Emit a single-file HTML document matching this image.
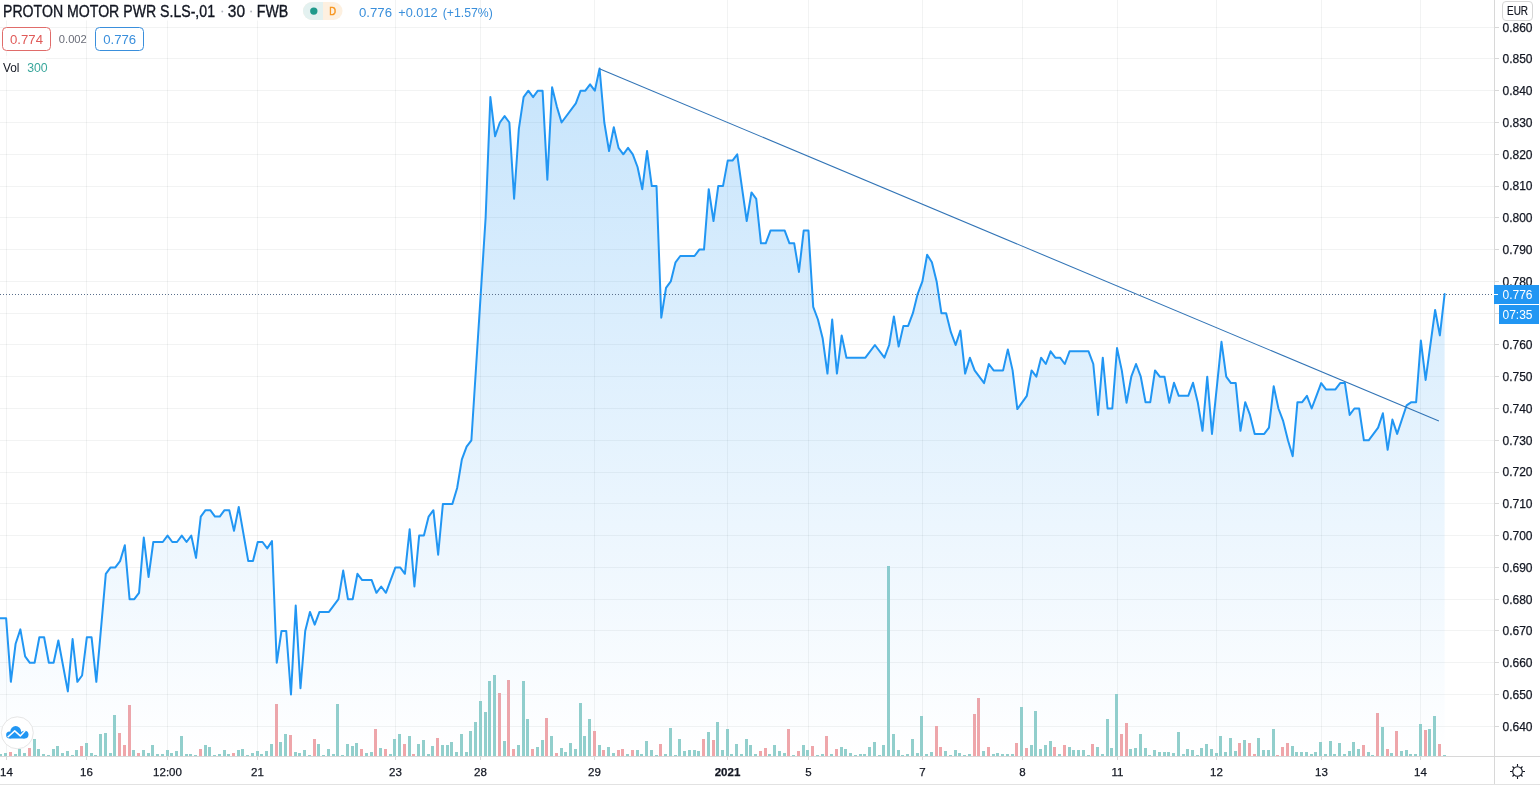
<!DOCTYPE html>
<html><head><meta charset="utf-8">
<style>
html,body{margin:0;padding:0;background:#fff;}
body{width:1540px;height:787px;overflow:hidden;position:relative;font-family:"Liberation Sans",Arial,sans-serif;}
svg{position:absolute;left:0;top:0;}
.lg{position:absolute;white-space:nowrap;color:#131722;}
</style></head><body>
<svg width="1540" height="787" viewBox="0 0 1540 787">
<defs>
<linearGradient id="ag" x1="0" y1="0" x2="0" y2="756" gradientUnits="userSpaceOnUse">
<stop offset="0" stop-color="#2196f3" stop-opacity="0.28"/>
<stop offset="1" stop-color="#2196f3" stop-opacity="0.0"/>
</linearGradient>
<clipPath id="pane"><rect x="0" y="0" width="1494" height="756"/></clipPath>
</defs>
<rect x="0" y="0" width="1540" height="787" fill="#fff"/>
<path d="M0,27.5H1494 M0,58.5H1494 M0,90.5H1494 M0,122.5H1494 M0,154.5H1494 M0,186.5H1494 M0,217.5H1494 M0,249.5H1494 M0,281.5H1494 M0,313.5H1494 M0,344.5H1494 M0,376.5H1494 M0,408.5H1494 M0,440.5H1494 M0,472.5H1494 M0,503.5H1494 M0,535.5H1494 M0,567.5H1494 M0,599.5H1494 M0,630.5H1494 M0,662.5H1494 M0,694.5H1494 M0,726.5H1494" stroke="rgba(42,46,57,0.06)" stroke-width="1" fill="none"/>
<path d="M6.5,0V756 M86.5,0V756 M167.5,0V756 M257.5,0V756 M395.5,0V756 M480.5,0V756 M594.5,0V756 M727.5,0V756 M808.5,0V756 M922.5,0V756 M1022.5,0V756 M1117.5,0V756 M1216.5,0V756 M1321.5,0V756 M1420.5,0V756" stroke="rgba(42,46,57,0.06)" stroke-width="1" fill="none"/>
<g clip-path="url(#pane)">
<g fill="#92cfcc"><rect x="-1" y="754" width="3" height="2"/><rect x="4" y="753" width="3" height="3"/><rect x="14" y="754" width="3" height="2"/><rect x="18" y="749" width="3" height="7"/><rect x="23" y="753" width="3" height="3"/><rect x="33" y="739" width="3" height="17"/><rect x="37" y="749" width="3" height="7"/><rect x="42" y="754" width="3" height="2"/><rect x="47" y="755" width="3" height="1"/><rect x="52" y="749" width="3" height="7"/><rect x="56" y="746" width="3" height="10"/><rect x="61" y="753" width="3" height="3"/><rect x="66" y="751" width="3" height="5"/><rect x="71" y="755" width="3" height="1"/><rect x="75" y="750" width="3" height="6"/><rect x="85" y="743" width="3" height="13"/><rect x="90" y="753" width="3" height="3"/><rect x="94" y="755" width="3" height="1"/><rect x="99" y="734" width="3" height="22"/><rect x="104" y="733" width="3" height="23"/><rect x="109" y="753" width="3" height="3"/><rect x="113" y="715" width="3" height="41"/><rect x="132" y="750" width="3" height="6"/><rect x="142" y="750" width="3" height="6"/><rect x="147" y="753" width="3" height="3"/><rect x="151" y="745" width="3" height="11"/><rect x="156" y="754" width="3" height="2"/><rect x="161" y="754" width="3" height="2"/><rect x="166" y="750" width="3" height="6"/><rect x="170" y="753" width="3" height="3"/><rect x="175" y="751" width="3" height="5"/><rect x="180" y="736" width="3" height="20"/><rect x="185" y="754" width="3" height="2"/><rect x="189" y="754" width="3" height="2"/><rect x="194" y="755" width="3" height="1"/><rect x="204" y="745" width="3" height="11"/><rect x="208" y="747" width="3" height="9"/><rect x="213" y="755" width="3" height="1"/><rect x="218" y="754" width="3" height="2"/><rect x="223" y="750" width="3" height="6"/><rect x="227" y="754" width="3" height="2"/><rect x="237" y="750" width="3" height="6"/><rect x="241" y="749" width="3" height="7"/><rect x="246" y="755" width="3" height="1"/><rect x="251" y="753" width="3" height="3"/><rect x="256" y="751" width="3" height="5"/><rect x="260" y="754" width="3" height="2"/><rect x="265" y="751" width="3" height="5"/><rect x="270" y="744" width="3" height="12"/><rect x="279" y="742" width="3" height="14"/><rect x="284" y="734" width="3" height="22"/><rect x="294" y="752" width="3" height="4"/><rect x="298" y="753" width="3" height="3"/><rect x="303" y="750" width="3" height="6"/><rect x="308" y="755" width="3" height="1"/><rect x="317" y="744" width="3" height="12"/><rect x="322" y="755" width="3" height="1"/><rect x="327" y="749" width="3" height="7"/><rect x="332" y="754" width="3" height="2"/><rect x="336" y="704" width="3" height="52"/><rect x="341" y="755" width="3" height="1"/><rect x="346" y="744" width="3" height="12"/><rect x="351" y="746" width="3" height="10"/><rect x="355" y="743" width="3" height="13"/><rect x="365" y="753" width="3" height="3"/><rect x="370" y="752" width="3" height="4"/><rect x="379" y="748" width="3" height="8"/><rect x="389" y="754" width="3" height="2"/><rect x="393" y="739" width="3" height="17"/><rect x="398" y="734" width="3" height="22"/><rect x="408" y="736" width="3" height="20"/><rect x="417" y="744" width="3" height="12"/><rect x="422" y="740" width="3" height="16"/><rect x="427" y="754" width="3" height="2"/><rect x="431" y="746" width="3" height="10"/><rect x="441" y="745" width="3" height="11"/><rect x="446" y="745" width="3" height="11"/><rect x="450" y="742" width="3" height="14"/><rect x="455" y="752" width="3" height="4"/><rect x="460" y="734" width="3" height="22"/><rect x="465" y="752" width="3" height="4"/><rect x="469" y="731" width="3" height="25"/><rect x="474" y="722" width="3" height="34"/><rect x="479" y="701" width="3" height="55"/><rect x="484" y="712" width="3" height="44"/><rect x="488" y="681" width="3" height="75"/><rect x="493" y="675" width="3" height="81"/><rect x="503" y="741" width="3" height="15"/><rect x="517" y="745" width="3" height="11"/><rect x="522" y="681" width="3" height="75"/><rect x="526" y="719" width="3" height="37"/><rect x="536" y="747" width="3" height="9"/><rect x="541" y="740" width="3" height="16"/><rect x="550" y="736" width="3" height="20"/><rect x="560" y="748" width="3" height="8"/><rect x="564" y="752" width="3" height="4"/><rect x="569" y="743" width="3" height="13"/><rect x="574" y="749" width="3" height="7"/><rect x="579" y="703" width="3" height="53"/><rect x="583" y="736" width="3" height="20"/><rect x="588" y="719" width="3" height="37"/><rect x="598" y="745" width="3" height="11"/><rect x="607" y="747" width="3" height="9"/><rect x="612" y="753" width="3" height="3"/><rect x="626" y="754" width="3" height="2"/><rect x="636" y="750" width="3" height="6"/><rect x="640" y="754" width="3" height="2"/><rect x="645" y="741" width="3" height="15"/><rect x="650" y="750" width="3" height="6"/><rect x="655" y="755" width="3" height="1"/><rect x="664" y="754" width="3" height="2"/><rect x="669" y="728" width="3" height="28"/><rect x="674" y="755" width="3" height="1"/><rect x="678" y="739" width="3" height="17"/><rect x="683" y="751" width="3" height="5"/><rect x="688" y="750" width="3" height="6"/><rect x="693" y="750" width="3" height="6"/><rect x="697" y="751" width="3" height="5"/><rect x="707" y="732" width="3" height="24"/><rect x="716" y="722" width="3" height="34"/><rect x="721" y="750" width="3" height="6"/><rect x="726" y="729" width="3" height="27"/><rect x="730" y="754" width="3" height="2"/><rect x="735" y="744" width="3" height="12"/><rect x="740" y="754" width="3" height="2"/><rect x="745" y="739" width="3" height="17"/><rect x="749" y="745" width="3" height="11"/><rect x="754" y="754" width="3" height="2"/><rect x="768" y="754" width="3" height="2"/><rect x="773" y="745" width="3" height="11"/><rect x="778" y="751" width="3" height="5"/><rect x="783" y="753" width="3" height="3"/><rect x="792" y="755" width="3" height="1"/><rect x="802" y="745" width="3" height="11"/><rect x="806" y="750" width="3" height="6"/><rect x="816" y="755" width="3" height="1"/><rect x="821" y="754" width="3" height="2"/><rect x="830" y="754" width="3" height="2"/><rect x="840" y="747" width="3" height="9"/><rect x="844" y="749" width="3" height="7"/><rect x="849" y="753" width="3" height="3"/><rect x="854" y="755" width="3" height="1"/><rect x="859" y="754" width="3" height="2"/><rect x="863" y="754" width="3" height="2"/><rect x="868" y="747" width="3" height="9"/><rect x="873" y="742" width="3" height="14"/><rect x="878" y="755" width="3" height="1"/><rect x="882" y="745" width="3" height="11"/><rect x="887" y="566" width="3" height="190"/><rect x="892" y="734" width="3" height="22"/><rect x="897" y="750" width="3" height="6"/><rect x="901" y="755" width="3" height="1"/><rect x="906" y="754" width="3" height="2"/><rect x="911" y="739" width="3" height="17"/><rect x="916" y="753" width="3" height="3"/><rect x="920" y="716" width="3" height="40"/><rect x="925" y="754" width="3" height="2"/><rect x="930" y="752" width="3" height="4"/><rect x="944" y="751" width="3" height="5"/><rect x="949" y="755" width="3" height="1"/><rect x="954" y="750" width="3" height="6"/><rect x="958" y="753" width="3" height="3"/><rect x="963" y="755" width="3" height="1"/><rect x="968" y="754" width="3" height="2"/><rect x="982" y="751" width="3" height="5"/><rect x="992" y="754" width="3" height="2"/><rect x="996" y="753" width="3" height="3"/><rect x="1001" y="754" width="3" height="2"/><rect x="1006" y="754" width="3" height="2"/><rect x="1011" y="754" width="3" height="2"/><rect x="1020" y="707" width="3" height="49"/><rect x="1030" y="745" width="3" height="11"/><rect x="1034" y="711" width="3" height="45"/><rect x="1039" y="749" width="3" height="7"/><rect x="1044" y="745" width="3" height="11"/><rect x="1049" y="741" width="3" height="15"/><rect x="1058" y="754" width="3" height="2"/><rect x="1068" y="747" width="3" height="9"/><rect x="1072" y="750" width="3" height="6"/><rect x="1077" y="750" width="3" height="6"/><rect x="1082" y="750" width="3" height="6"/><rect x="1087" y="755" width="3" height="1"/><rect x="1096" y="747" width="3" height="9"/><rect x="1101" y="754" width="3" height="2"/><rect x="1106" y="719" width="3" height="37"/><rect x="1110" y="748" width="3" height="8"/><rect x="1115" y="694" width="3" height="62"/><rect x="1129" y="749" width="3" height="7"/><rect x="1134" y="748" width="3" height="8"/><rect x="1139" y="734" width="3" height="22"/><rect x="1144" y="748" width="3" height="8"/><rect x="1148" y="755" width="3" height="1"/><rect x="1153" y="750" width="3" height="6"/><rect x="1158" y="752" width="3" height="4"/><rect x="1163" y="752" width="3" height="4"/><rect x="1167" y="752" width="3" height="4"/><rect x="1172" y="753" width="3" height="3"/><rect x="1177" y="732" width="3" height="24"/><rect x="1182" y="754" width="3" height="2"/><rect x="1186" y="749" width="3" height="7"/><rect x="1191" y="750" width="3" height="6"/><rect x="1196" y="755" width="3" height="1"/><rect x="1200" y="748" width="3" height="8"/><rect x="1205" y="744" width="3" height="12"/><rect x="1210" y="749" width="3" height="7"/><rect x="1215" y="753" width="3" height="3"/><rect x="1219" y="736" width="3" height="20"/><rect x="1224" y="752" width="3" height="4"/><rect x="1229" y="738" width="3" height="18"/><rect x="1234" y="751" width="3" height="5"/><rect x="1243" y="740" width="3" height="16"/><rect x="1257" y="738" width="3" height="18"/><rect x="1262" y="750" width="3" height="6"/><rect x="1267" y="750" width="3" height="6"/><rect x="1272" y="729" width="3" height="27"/><rect x="1291" y="746" width="3" height="10"/><rect x="1295" y="752" width="3" height="4"/><rect x="1300" y="752" width="3" height="4"/><rect x="1305" y="752" width="3" height="4"/><rect x="1310" y="754" width="3" height="2"/><rect x="1314" y="752" width="3" height="4"/><rect x="1319" y="742" width="3" height="14"/><rect x="1324" y="754" width="3" height="2"/><rect x="1329" y="741" width="3" height="15"/><rect x="1333" y="754" width="3" height="2"/><rect x="1338" y="743" width="3" height="13"/><rect x="1343" y="754" width="3" height="2"/><rect x="1348" y="751" width="3" height="5"/><rect x="1352" y="742" width="3" height="14"/><rect x="1357" y="749" width="3" height="7"/><rect x="1367" y="752" width="3" height="4"/><rect x="1371" y="755" width="3" height="1"/><rect x="1381" y="727" width="3" height="29"/><rect x="1390" y="753" width="3" height="3"/><rect x="1400" y="751" width="3" height="5"/><rect x="1405" y="750" width="3" height="6"/><rect x="1409" y="754" width="3" height="2"/><rect x="1414" y="754" width="3" height="2"/><rect x="1419" y="724" width="3" height="32"/><rect x="1428" y="729" width="3" height="27"/><rect x="1433" y="716" width="3" height="40"/><rect x="1443" y="755" width="3" height="1"/></g>
<g fill="#efa6aa"><rect x="9" y="752" width="3" height="4"/><rect x="28" y="748" width="3" height="8"/><rect x="80" y="746" width="3" height="10"/><rect x="118" y="733" width="3" height="23"/><rect x="123" y="745" width="3" height="11"/><rect x="128" y="705" width="3" height="51"/><rect x="137" y="753" width="3" height="3"/><rect x="199" y="749" width="3" height="7"/><rect x="232" y="753" width="3" height="3"/><rect x="275" y="704" width="3" height="52"/><rect x="289" y="735" width="3" height="21"/><rect x="313" y="739" width="3" height="17"/><rect x="360" y="749" width="3" height="7"/><rect x="374" y="729" width="3" height="27"/><rect x="384" y="749" width="3" height="7"/><rect x="403" y="744" width="3" height="12"/><rect x="412" y="754" width="3" height="2"/><rect x="436" y="738" width="3" height="18"/><rect x="498" y="693" width="3" height="63"/><rect x="507" y="680" width="3" height="76"/><rect x="512" y="749" width="3" height="7"/><rect x="531" y="749" width="3" height="7"/><rect x="545" y="718" width="3" height="38"/><rect x="555" y="753" width="3" height="3"/><rect x="593" y="731" width="3" height="25"/><rect x="602" y="750" width="3" height="6"/><rect x="617" y="750" width="3" height="6"/><rect x="621" y="749" width="3" height="7"/><rect x="631" y="750" width="3" height="6"/><rect x="659" y="744" width="3" height="12"/><rect x="702" y="739" width="3" height="17"/><rect x="712" y="740" width="3" height="16"/><rect x="759" y="751" width="3" height="5"/><rect x="764" y="748" width="3" height="8"/><rect x="787" y="729" width="3" height="27"/><rect x="797" y="751" width="3" height="5"/><rect x="811" y="746" width="3" height="10"/><rect x="825" y="736" width="3" height="20"/><rect x="835" y="749" width="3" height="7"/><rect x="935" y="726" width="3" height="30"/><rect x="939" y="747" width="3" height="9"/><rect x="973" y="714" width="3" height="42"/><rect x="977" y="698" width="3" height="58"/><rect x="987" y="747" width="3" height="9"/><rect x="1015" y="743" width="3" height="13"/><rect x="1025" y="748" width="3" height="8"/><rect x="1053" y="747" width="3" height="9"/><rect x="1063" y="745" width="3" height="11"/><rect x="1091" y="744" width="3" height="12"/><rect x="1120" y="734" width="3" height="22"/><rect x="1125" y="723" width="3" height="33"/><rect x="1238" y="743" width="3" height="13"/><rect x="1248" y="743" width="3" height="13"/><rect x="1253" y="754" width="3" height="2"/><rect x="1276" y="755" width="3" height="1"/><rect x="1281" y="747" width="3" height="9"/><rect x="1286" y="743" width="3" height="13"/><rect x="1362" y="745" width="3" height="11"/><rect x="1376" y="713" width="3" height="43"/><rect x="1386" y="749" width="3" height="7"/><rect x="1395" y="731" width="3" height="25"/><rect x="1424" y="730" width="3" height="26"/><rect x="1438" y="744" width="3" height="12"/></g>
<path d="M-3.00,618.0 L1.38,618.3 L6.13,618.3 L10.87,681.8 L15.62,643.7 L20.37,629.4 L25.12,656.4 L29.86,662.8 L34.61,662.8 L39.36,637.3 L44.11,637.3 L48.85,662.8 L53.60,662.8 L58.35,640.5 L67.84,691.4 L72.59,639.0 L77.34,681.8 L82.09,675.5 L86.83,637.3 L91.58,637.3 L96.33,681.8 L105.82,573.8 L110.57,567.4 L115.32,567.4 L120.07,561.1 L124.81,545.2 L129.56,599.2 L134.31,599.2 L139.05,592.8 L143.80,537.6 L148.55,577.0 L153.30,542.0 L162.79,542.0 L167.54,535.6 L172.29,542.0 L177.03,542.0 L181.78,535.6 L186.53,542.0 L191.28,535.6 L196.02,557.9 L200.77,516.6 L205.52,510.2 L210.27,510.2 L215.01,516.6 L219.76,516.6 L224.51,510.2 L229.26,510.2 L234.00,530.9 L238.75,507.0 L248.25,561.1 L252.99,561.1 L257.74,542.0 L262.49,542.0 L267.24,548.4 L271.98,541.1 L276.73,662.8 L281.48,631.0 L286.23,631.0 L290.97,694.5 L295.72,605.6 L300.47,688.2 L305.22,631.0 L309.96,611.9 L314.71,624.6 L319.46,611.9 L328.95,611.9 L338.45,599.2 L343.20,570.6 L347.94,599.2 L352.69,599.2 L357.44,573.8 L362.19,580.1 L371.68,580.1 L376.43,592.8 L381.18,586.5 L385.92,592.8 L395.42,567.4 L400.17,567.4 L404.91,573.8 L409.66,529.3 L414.41,586.5 L419.16,535.6 L423.90,535.6 L428.65,516.6 L433.40,510.2 L438.15,554.7 L442.89,503.9 L452.39,503.9 L457.14,488.0 L461.88,459.4 L466.63,446.7 L471.38,440.3 L485.62,217.8 L490.37,97.1 L495.12,136.3 L499.86,122.5 L504.61,116.1 L509.36,122.5 L514.11,198.8 L518.85,128.9 L523.60,97.1 L528.35,90.7 L533.10,97.1 L537.84,90.7 L542.59,90.7 L547.34,179.7 L552.09,87.3 L556.83,106.6 L561.58,122.5 L575.82,103.4 L580.57,90.7 L585.32,90.7 L590.07,84.4 L594.81,90.7 L599.56,68.5 L604.31,122.5 L609.06,151.1 L613.80,127.2 L618.55,147.9 L623.30,154.3 L628.05,147.9 L632.79,154.3 L637.54,167.0 L642.29,189.2 L647.04,151.0 L651.78,186.1 L656.53,186.1 L661.28,317.7 L666.03,287.8 L670.77,281.4 L675.52,262.3 L680.27,256.0 L694.51,256.0 L699.26,249.6 L704.01,249.6 L708.75,189.2 L713.50,221.0 L718.25,186.1 L723.00,186.1 L727.74,160.6 L732.49,160.6 L737.24,154.3 L746.73,221.0 L751.48,192.4 L756.23,198.8 L760.97,243.3 L765.72,243.3 L770.47,230.6 L784.71,230.6 L789.46,243.3 L794.21,243.3 L798.95,271.9 L803.70,230.6 L808.45,230.6 L813.20,306.8 L817.94,319.5 L822.69,338.6 L827.44,373.6 L832.19,319.5 L836.93,373.6 L841.68,335.4 L846.43,357.7 L865.42,357.7 L874.91,345.0 L884.41,357.7 L889.16,345.0 L893.90,316.4 L898.65,346.6 L903.40,325.9 L908.15,325.9 L912.89,313.2 L917.64,294.1 L922.39,281.4 L927.14,254.7 L931.88,262.3 L936.63,281.4 L941.38,313.2 L946.13,313.2 L950.87,332.2 L955.62,345.0 L960.37,330.6 L965.12,373.6 L969.86,357.7 L974.61,370.4 L984.11,383.1 L988.85,364.0 L993.60,370.4 L1003.10,370.4 L1007.84,349.4 L1012.59,370.4 L1017.34,409.1 L1026.83,395.8 L1031.58,370.4 L1036.33,376.7 L1041.08,357.7 L1045.82,364.0 L1050.57,351.3 L1055.32,357.7 L1060.07,357.7 L1064.81,364.0 L1069.56,351.3 L1088.55,351.3 L1093.30,364.0 L1098.05,414.9 L1102.79,357.7 L1107.54,408.5 L1112.29,408.5 L1117.04,348.1 L1121.78,370.4 L1126.53,402.7 L1131.28,376.7 L1136.03,364.0 L1140.77,376.7 L1145.52,402.2 L1150.27,402.2 L1155.02,370.4 L1159.76,376.7 L1164.51,376.7 L1169.26,402.7 L1174.01,382.8 L1178.75,395.8 L1188.25,395.8 L1193.00,382.8 L1197.74,402.2 L1202.49,430.8 L1207.24,376.7 L1211.99,433.9 L1221.48,341.8 L1226.23,376.7 L1230.98,383.1 L1235.72,383.1 L1240.47,430.8 L1245.22,402.2 L1249.97,414.9 L1254.71,433.9 L1264.21,433.9 L1268.96,427.6 L1273.70,386.3 L1278.45,408.5 L1283.20,421.2 L1287.95,440.3 L1292.69,456.2 L1297.44,402.2 L1302.19,402.2 L1306.94,395.8 L1311.68,408.5 L1316.43,395.8 L1321.18,383.1 L1325.93,389.4 L1335.42,389.4 L1340.17,383.1 L1344.92,383.1 L1349.66,414.9 L1354.41,408.5 L1359.16,408.5 L1363.90,440.3 L1368.65,440.3 L1378.15,427.6 L1382.89,413.3 L1387.64,449.8 L1392.39,419.6 L1397.14,433.9 L1406.63,405.3 L1411.38,402.2 L1416.13,402.2 L1420.87,340.6 L1425.62,379.9 L1435.12,310.0 L1439.86,335.4 L1444.61,294.1 L1444.61,756 L-3,756 Z" fill="url(#ag)" stroke="none"/>
<path d="M-3.00,618.0 L1.38,618.3 L6.13,618.3 L10.87,681.8 L15.62,643.7 L20.37,629.4 L25.12,656.4 L29.86,662.8 L34.61,662.8 L39.36,637.3 L44.11,637.3 L48.85,662.8 L53.60,662.8 L58.35,640.5 L67.84,691.4 L72.59,639.0 L77.34,681.8 L82.09,675.5 L86.83,637.3 L91.58,637.3 L96.33,681.8 L105.82,573.8 L110.57,567.4 L115.32,567.4 L120.07,561.1 L124.81,545.2 L129.56,599.2 L134.31,599.2 L139.05,592.8 L143.80,537.6 L148.55,577.0 L153.30,542.0 L162.79,542.0 L167.54,535.6 L172.29,542.0 L177.03,542.0 L181.78,535.6 L186.53,542.0 L191.28,535.6 L196.02,557.9 L200.77,516.6 L205.52,510.2 L210.27,510.2 L215.01,516.6 L219.76,516.6 L224.51,510.2 L229.26,510.2 L234.00,530.9 L238.75,507.0 L248.25,561.1 L252.99,561.1 L257.74,542.0 L262.49,542.0 L267.24,548.4 L271.98,541.1 L276.73,662.8 L281.48,631.0 L286.23,631.0 L290.97,694.5 L295.72,605.6 L300.47,688.2 L305.22,631.0 L309.96,611.9 L314.71,624.6 L319.46,611.9 L328.95,611.9 L338.45,599.2 L343.20,570.6 L347.94,599.2 L352.69,599.2 L357.44,573.8 L362.19,580.1 L371.68,580.1 L376.43,592.8 L381.18,586.5 L385.92,592.8 L395.42,567.4 L400.17,567.4 L404.91,573.8 L409.66,529.3 L414.41,586.5 L419.16,535.6 L423.90,535.6 L428.65,516.6 L433.40,510.2 L438.15,554.7 L442.89,503.9 L452.39,503.9 L457.14,488.0 L461.88,459.4 L466.63,446.7 L471.38,440.3 L485.62,217.8 L490.37,97.1 L495.12,136.3 L499.86,122.5 L504.61,116.1 L509.36,122.5 L514.11,198.8 L518.85,128.9 L523.60,97.1 L528.35,90.7 L533.10,97.1 L537.84,90.7 L542.59,90.7 L547.34,179.7 L552.09,87.3 L556.83,106.6 L561.58,122.5 L575.82,103.4 L580.57,90.7 L585.32,90.7 L590.07,84.4 L594.81,90.7 L599.56,68.5 L604.31,122.5 L609.06,151.1 L613.80,127.2 L618.55,147.9 L623.30,154.3 L628.05,147.9 L632.79,154.3 L637.54,167.0 L642.29,189.2 L647.04,151.0 L651.78,186.1 L656.53,186.1 L661.28,317.7 L666.03,287.8 L670.77,281.4 L675.52,262.3 L680.27,256.0 L694.51,256.0 L699.26,249.6 L704.01,249.6 L708.75,189.2 L713.50,221.0 L718.25,186.1 L723.00,186.1 L727.74,160.6 L732.49,160.6 L737.24,154.3 L746.73,221.0 L751.48,192.4 L756.23,198.8 L760.97,243.3 L765.72,243.3 L770.47,230.6 L784.71,230.6 L789.46,243.3 L794.21,243.3 L798.95,271.9 L803.70,230.6 L808.45,230.6 L813.20,306.8 L817.94,319.5 L822.69,338.6 L827.44,373.6 L832.19,319.5 L836.93,373.6 L841.68,335.4 L846.43,357.7 L865.42,357.7 L874.91,345.0 L884.41,357.7 L889.16,345.0 L893.90,316.4 L898.65,346.6 L903.40,325.9 L908.15,325.9 L912.89,313.2 L917.64,294.1 L922.39,281.4 L927.14,254.7 L931.88,262.3 L936.63,281.4 L941.38,313.2 L946.13,313.2 L950.87,332.2 L955.62,345.0 L960.37,330.6 L965.12,373.6 L969.86,357.7 L974.61,370.4 L984.11,383.1 L988.85,364.0 L993.60,370.4 L1003.10,370.4 L1007.84,349.4 L1012.59,370.4 L1017.34,409.1 L1026.83,395.8 L1031.58,370.4 L1036.33,376.7 L1041.08,357.7 L1045.82,364.0 L1050.57,351.3 L1055.32,357.7 L1060.07,357.7 L1064.81,364.0 L1069.56,351.3 L1088.55,351.3 L1093.30,364.0 L1098.05,414.9 L1102.79,357.7 L1107.54,408.5 L1112.29,408.5 L1117.04,348.1 L1121.78,370.4 L1126.53,402.7 L1131.28,376.7 L1136.03,364.0 L1140.77,376.7 L1145.52,402.2 L1150.27,402.2 L1155.02,370.4 L1159.76,376.7 L1164.51,376.7 L1169.26,402.7 L1174.01,382.8 L1178.75,395.8 L1188.25,395.8 L1193.00,382.8 L1197.74,402.2 L1202.49,430.8 L1207.24,376.7 L1211.99,433.9 L1221.48,341.8 L1226.23,376.7 L1230.98,383.1 L1235.72,383.1 L1240.47,430.8 L1245.22,402.2 L1249.97,414.9 L1254.71,433.9 L1264.21,433.9 L1268.96,427.6 L1273.70,386.3 L1278.45,408.5 L1283.20,421.2 L1287.95,440.3 L1292.69,456.2 L1297.44,402.2 L1302.19,402.2 L1306.94,395.8 L1311.68,408.5 L1316.43,395.8 L1321.18,383.1 L1325.93,389.4 L1335.42,389.4 L1340.17,383.1 L1344.92,383.1 L1349.66,414.9 L1354.41,408.5 L1359.16,408.5 L1363.90,440.3 L1368.65,440.3 L1378.15,427.6 L1382.89,413.3 L1387.64,449.8 L1392.39,419.6 L1397.14,433.9 L1406.63,405.3 L1411.38,402.2 L1416.13,402.2 L1420.87,340.6 L1425.62,379.9 L1435.12,310.0 L1439.86,335.4 L1444.61,294.1" fill="none" stroke="#2196f3" stroke-width="2" stroke-linejoin="round" stroke-linecap="round"/>
<path d="M599.4,68.7 L1438.9,421.0" stroke="#3174b6" stroke-width="1.05" fill="none"/>
<path d="M0,294.5H1494" stroke="#5a6f8c" stroke-width="1" stroke-dasharray="1 2" fill="none"/>
</g>
<path d="M1494.5,0V784" stroke="#d8d8d8" stroke-width="1"/>
<path d="M0,756.5H1540" stroke="#d8d8d8" stroke-width="1"/>
<path d="M0,784.5H1540" stroke="#e2e2e2" stroke-width="1"/>
<path d="M1495,27.5H1499 M1495,58.5H1499 M1495,90.5H1499 M1495,122.5H1499 M1495,154.5H1499 M1495,186.5H1499 M1495,217.5H1499 M1495,249.5H1499 M1495,281.5H1499 M1495,313.5H1499 M1495,344.5H1499 M1495,376.5H1499 M1495,408.5H1499 M1495,440.5H1499 M1495,472.5H1499 M1495,503.5H1499 M1495,535.5H1499 M1495,567.5H1499 M1495,599.5H1499 M1495,630.5H1499 M1495,662.5H1499 M1495,694.5H1499 M1495,726.5H1499 M6.5,757V760 M86.5,757V760 M167.5,757V760 M257.5,757V760 M395.5,757V760 M480.5,757V760 M594.5,757V760 M727.5,757V760 M808.5,757V760 M922.5,757V760 M1022.5,757V760 M1117.5,757V760 M1216.5,757V760 M1321.5,757V760 M1420.5,757V760" stroke="#d8d8d8" stroke-width="1"/>
<g font-family="Liberation Sans, Arial, sans-serif" font-size="12" fill="#131722" stroke="#131722" stroke-width="0.25">
<text x="1502.5" y="31.5">0.860</text><text x="1502.5" y="63.2">0.850</text><text x="1502.5" y="95.0">0.840</text><text x="1502.5" y="126.8">0.830</text><text x="1502.5" y="158.6">0.820</text><text x="1502.5" y="190.4">0.810</text><text x="1502.5" y="222.1">0.800</text><text x="1502.5" y="253.9">0.790</text><text x="1502.5" y="285.7">0.780</text><text x="1502.5" y="349.3">0.760</text><text x="1502.5" y="381.0">0.750</text><text x="1502.5" y="412.8">0.740</text><text x="1502.5" y="444.6">0.730</text><text x="1502.5" y="476.4">0.720</text><text x="1502.5" y="508.2">0.710</text><text x="1502.5" y="539.9">0.700</text><text x="1502.5" y="571.7">0.690</text><text x="1502.5" y="603.5">0.680</text><text x="1502.5" y="635.3">0.670</text><text x="1502.5" y="667.1">0.660</text><text x="1502.5" y="698.8">0.650</text><text x="1502.5" y="730.6">0.640</text>
</g>
<g font-family="Liberation Sans, Arial, sans-serif" font-size="11.5" fill="#131722" stroke="#131722" stroke-width="0.25">
<text x="6.5" y="775.5" text-anchor="middle">14</text><text x="86.5" y="775.5" text-anchor="middle">16</text><text x="167.5" y="775.5" text-anchor="middle">12:00</text><text x="257.5" y="775.5" text-anchor="middle">21</text><text x="395.5" y="775.5" text-anchor="middle">23</text><text x="480.5" y="775.5" text-anchor="middle">28</text><text x="594.5" y="775.5" text-anchor="middle">29</text><text x="727.5" y="775.5" text-anchor="middle" font-weight="bold">2021</text><text x="808.5" y="775.5" text-anchor="middle">5</text><text x="922.5" y="775.5" text-anchor="middle">7</text><text x="1022.5" y="775.5" text-anchor="middle">8</text><text x="1117.5" y="775.5" text-anchor="middle">11</text><text x="1216.5" y="775.5" text-anchor="middle">12</text><text x="1321.5" y="775.5" text-anchor="middle">13</text><text x="1420.5" y="775.5" text-anchor="middle">14</text>
</g>
<!-- EUR box -->
<rect x="1502.5" y="1.5" width="30" height="19" rx="3.5" fill="#fff" stroke="#d6d6d6"/>
<text x="1507" y="15.1" font-family="Liberation Sans, Arial, sans-serif" font-size="12.8" fill="#131722" stroke="#131722" stroke-width="0.2" textLength="21" lengthAdjust="spacingAndGlyphs">EUR</text>
<!-- last price label -->
<rect x="1494" y="285" width="45" height="19" fill="#2196f3"/>
<path d="M1494,294.5H1498" stroke="#fff" stroke-width="1"/>
<text x="1502.5" y="298.8" font-family="Liberation Sans, Arial, sans-serif" font-size="12" fill="#fff">0.776</text>
<rect x="1499" y="305" width="40" height="19" fill="#2196f3"/>
<text x="1502.5" y="318.6" font-family="Liberation Sans, Arial, sans-serif" font-size="12" fill="#fff">07:35</text>
<!-- gear -->
<g transform="translate(1517.5,771.5)" stroke="#131722" fill="none" stroke-width="1.1">
<circle r="4.8"/>
<path d="M0,-5V-7.5 M0,5V7.5 M-5,0H-7.5 M5,0H7.5 M3.5,-3.5L5,-5 M-3.5,-3.5L-5,-5 M3.5,3.5L5,5 M-3.5,3.5L-5,5"/>
</g>
<!-- logo -->
<circle cx="17.3" cy="732.8" r="16" fill="#fff" stroke="#e6e6e6" stroke-width="1"/>
<g fill="#2196f3"><circle cx="9.6" cy="734.9" r="3.5"/><circle cx="15.7" cy="731.5" r="5.4"/><circle cx="24.6" cy="734.6" r="3.9"/><rect x="9.6" y="732" width="15" height="6.5"/></g>
<path d="M7.6,737.2 L14.7,730.9 L20.3,735.9 L25.3,730.6" stroke="#fff" stroke-width="1.5" fill="none" stroke-linejoin="round"/>
<!-- legend -->
<rect x="0" y="0" width="346" height="20.5" fill="#fff"/>
<rect x="0" y="56" width="46" height="16.5" fill="#fff" fill-opacity="0.75"/>
<rect x="2.5" y="27.5" width="48" height="23" rx="4" fill="#fff"/>
<rect x="95.5" y="27.5" width="48" height="23" rx="4" fill="#fff"/>
<g font-family="Liberation Sans, Arial, sans-serif" fill="#131722" stroke="#131722" stroke-width="0.35">
<text x="3" y="17" font-size="16" textLength="212" lengthAdjust="spacingAndGlyphs">PROTON MOTOR PWR S.LS-,01</text>
<circle cx="222.3" cy="11.5" r="0.95" fill="#aeb1b9" stroke="none"/>
<text x="227.8" y="17" font-size="16" textLength="17.2" lengthAdjust="spacingAndGlyphs">30</text>
<circle cx="251.1" cy="11.5" r="0.95" fill="#aeb1b9" stroke="none"/>
<text x="256.8" y="17" font-size="16" textLength="31.5" lengthAdjust="spacingAndGlyphs">FWB</text>
</g>
<rect x="303" y="2" width="39.5" height="18" rx="9" fill="#fdf0e0"/>
<path d="M312,2 H323 V20 H312 A9,9 0 0 1 312,2 Z" fill="#e3f1f0"/>
<circle cx="313.8" cy="11.1" r="3.7" fill="#1f9a8c"/>
<text x="329.2" y="15.3" font-family="Liberation Sans, Arial, sans-serif" font-size="10.8" fill="#f7931a" stroke="#f7931a" stroke-width="0.45" textLength="6.8" lengthAdjust="spacingAndGlyphs">D</text>
<g font-family="Liberation Sans, Arial, sans-serif" font-size="12.2" fill="#3a8fdb">
<text x="359" y="16.8" textLength="33" lengthAdjust="spacingAndGlyphs">0.776</text>
<text x="398.3" y="16.8" textLength="39.3" lengthAdjust="spacingAndGlyphs">+0.012</text>
<text x="442.8" y="16.8" textLength="50" lengthAdjust="spacingAndGlyphs">(+1.57%)</text>
</g>
<rect x="2.5" y="27.5" width="48" height="23" rx="4" fill="none" stroke="#e06c6a" stroke-width="1"/>
<text x="10" y="44" font-family="Liberation Sans, Arial, sans-serif" font-size="13" fill="#e05a58" textLength="33" lengthAdjust="spacingAndGlyphs">0.774</text>
<text x="58.8" y="42.8" font-family="Liberation Sans, Arial, sans-serif" font-size="10.5" fill="#6a6d78" textLength="28" lengthAdjust="spacingAndGlyphs">0.002</text>
<rect x="95.5" y="27.5" width="48" height="23" rx="4" fill="none" stroke="#3a8fdc" stroke-width="1"/>
<text x="103.2" y="44" font-family="Liberation Sans, Arial, sans-serif" font-size="13" fill="#3a8fdc" textLength="33" lengthAdjust="spacingAndGlyphs">0.776</text>
<text x="3" y="71.6" font-family="Liberation Sans, Arial, sans-serif" font-size="12" fill="#131722" textLength="16.5" lengthAdjust="spacingAndGlyphs">Vol</text>
<text x="27.2" y="71.6" font-family="Liberation Sans, Arial, sans-serif" font-size="12" fill="#3aa79c" textLength="20.5" lengthAdjust="spacingAndGlyphs">300</text>
</svg>

</body></html>
